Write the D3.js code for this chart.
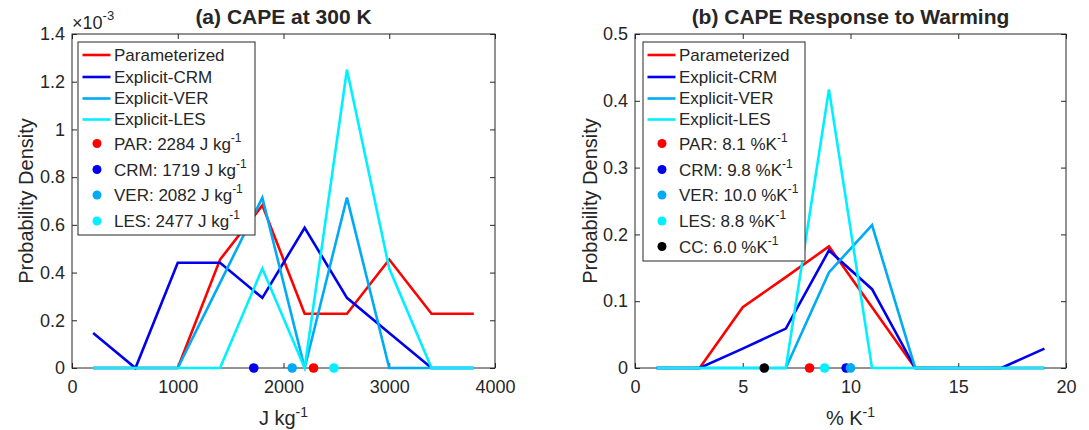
<!DOCTYPE html>
<html>
<head>
<meta charset="utf-8">
<script src="https://cdn.jsdelivr.net/npm/d3@7"></script>
<style>
  body { margin: 0; background: #fff; }
  svg text { font-family: "Liberation Sans", Arial, Helvetica, sans-serif; fill: #262626; }
  .axis path, .axis line { stroke: #262626; stroke-width: 1; }
  .axis text { font-size: 18px; fill: #262626; }
</style>
</head>
<body>
<svg id="fig" width="1089" height="430"></svg>
<script>
// ---- data (a): CAPE at 300 K, density in units of 1e-3 ----
var binsA = [200, 600, 1000, 1400, 1800, 2200, 2600, 3000, 3400, 3800];
var parA = [0, 0, 0, 0.4545, 0.6818, 0.2273, 0.2273, 0.4545, 0.2273, 0.2273];
var crmA = [0.147, 0, 0.441, 0.441, 0.294, 0.588, 0.294, 0.147, 0, 0];
var verA = [0, 0, 0, 0.357, 0.714, 0, 0.714, 0, 0, 0];
var lesA = [0, 0, 0, 0, 0.417, 0, 1.25, 0.417, 0, 0];
var meanA = [2284, 1719, 2082, 2477];            // PAR, CRM, VER, LES
var ticksAx = [0, 1000, 2000, 3000, 4000];
var ticksAy = [0, 0.2, 0.4, 0.6, 0.8, 1, 1.2, 1.4];

// ---- data (b): CAPE response to warming ----
var binsB = [1, 3, 5, 7, 9, 11, 13, 15, 17, 19];
var parB = [0, 0, 0.091, 0.136, 0.182, 0.091, 0, 0, 0, 0];
var crmB = [0, 0, 0.029, 0.059, 0.176, 0.118, 0, 0, 0, 0.029];
var verB = [0, 0, 0, 0, 0.143, 0.214, 0, 0, 0, 0];
var lesB = [0, 0, 0, 0, 0.417, 0, 0, 0, 0, 0];
var meanB = [8.1, 9.8, 10.0, 8.8, 6.0];           // PAR, CRM, VER, LES, CC
var ticksBx = [0, 5, 10, 15, 20];
var ticksBy = [0, 0.1, 0.2, 0.3, 0.4, 0.5];

var seriesNames = ["Parameterized", "Explicit-CRM", "Explicit-VER", "Explicit-LES"];
var dotNames = ["PAR", "CRM", "VER", "LES", "CC"];
var colors = ["#ff0000", "#0000ee", "#00aaf5", "#00f0ff", "#000000"];

var svg = d3.select("#fig");

function drawPanel(opt) {
  var x = d3.scaleLinear().domain(opt.xdom).range([opt.left, opt.right]);
  var y = d3.scaleLinear().domain(opt.ydom).range([opt.bottom, opt.top]);
  var g = svg.append("g");

  // axes, ticks pointing inward, box on
  g.append("g").attr("class", "axis")
    .attr("transform", "translate(0," + opt.bottom + ")")
    .call(d3.axisBottom(x).tickValues(opt.xticks).tickSizeInner(-5).tickSizeOuter(0).tickPadding(12).tickFormat(d3.format("d")));
  g.append("g").attr("class", "axis")
    .attr("transform", "translate(0," + opt.top + ")")
    .call(d3.axisTop(x).tickValues(opt.xticks).tickSizeInner(-5).tickSizeOuter(0).tickFormat(""));
  g.append("g").attr("class", "axis")
    .attr("transform", "translate(" + opt.left + ",0)")
    .call(d3.axisLeft(y).tickValues(opt.yticks).tickSizeInner(-5).tickSizeOuter(0).tickPadding(7).tickFormat(function(d) { return String(+d.toFixed(2)); }));
  g.append("g").attr("class", "axis")
    .attr("transform", "translate(" + opt.right + ",0)")
    .call(d3.axisRight(y).tickValues(opt.yticks).tickSizeInner(-5).tickSizeOuter(0).tickFormat(""));
  g.selectAll(".axis .domain").remove();
  g.append("rect")
    .attr("x", opt.left).attr("y", opt.top)
    .attr("width", opt.right - opt.left).attr("height", opt.bottom - opt.top)
    .attr("fill", "none").attr("stroke", "#262626").attr("stroke-width", 1);

  var line = d3.line()
    .x(function(d) { return x(d[0]); })
    .y(function(d) { return y(d[1]); });

  opt.series.forEach(function(s, i) {
    g.append("path")
      .datum(opt.bins.map(function(b, j) { return [b, s[j]]; }))
      .attr("d", line)
      .attr("fill", "none")
      .attr("stroke", colors[i])
      .attr("stroke-width", 2.6)
      .attr("stroke-linejoin", "miter");
  });

  opt.means.forEach(function(m, i) {
    g.append("circle")
      .attr("cx", x(m)).attr("cy", y(0)).attr("r", 4.8)
      .attr("fill", colors[i]);
  });

  // title
  g.append("text")
    .attr("x", (opt.left + opt.right) / 2).attr("y", 24)
    .attr("text-anchor", "middle")
    .style("font-size", "21px").style("font-weight", "bold")
    .text(opt.title);

  // x label
  var xl = g.append("text")
    .attr("x", (opt.left + opt.right) / 2).attr("y", 425)
    .attr("text-anchor", "middle")
    .style("font-size", "20px");
  xl.append("tspan").text(opt.xlabel);
  xl.append("tspan").attr("dy", -8).style("font-size", "14px").text("-1");

  // y label
  g.append("text")
    .attr("transform", "translate(" + opt.ylabelX + "," + ((opt.top + opt.bottom) / 2) + ") rotate(-90)")
    .attr("text-anchor", "middle")
    .attr("dy", "0.35em")
    .style("font-size", "20px")
    .text("Probability Density");

  // legend
  var L = opt.legend;
  var lg = g.append("g");
  lg.append("rect")
    .attr("x", L.x).attr("y", L.y).attr("width", L.w).attr("height", L.h)
    .attr("fill", "#fff").attr("stroke", "#262626").attr("stroke-width", 1);
  var rowsLine = [55, 77, 98.5, 119.5];
  seriesNames.forEach(function(name, i) {
    lg.append("line")
      .attr("x1", L.x + 4.5).attr("x2", L.x + 32.5)
      .attr("y1", rowsLine[i]).attr("y2", rowsLine[i])
      .attr("stroke", colors[i]).attr("stroke-width", 2.6);
    lg.append("text")
      .attr("x", L.x + L.tx).attr("y", rowsLine[i]).attr("dy", "0.35em")
      .style("font-size", "17px").text(name);
  });
  var rowsDot = [143.5, 169.5, 195, 221, 246.5];
  opt.means.forEach(function(m, i) {
    lg.append("circle")
      .attr("cx", L.x + 19).attr("cy", rowsDot[i]).attr("r", 4.5)
      .attr("fill", colors[i]);
    var t = lg.append("text")
      .attr("x", L.x + L.tx).attr("y", rowsDot[i] + 6)
      .style("font-size", "17px");
    t.append("tspan").text(dotNames[i] + ": " + opt.fmt(m) + opt.unit);
    t.append("tspan").attr("dy", -8).style("font-size", "12px").text("-1");
  });

  return {x: x, y: y};
}

drawPanel({
  left: 72, right: 495, top: 34, bottom: 368,
  xdom: [0, 4000], ydom: [0, 1.4],
  xticks: ticksAx, yticks: ticksAy,
  bins: binsA, series: [parA, crmA, verA, lesA], means: meanA,
  title: "(a) CAPE at 300 K", xlabel: "J kg", ylabelX: 26,
  legend: {x: 78, y: 42, w: 177, h: 193, tx: 36},
  fmt: function(v) { return String(v); }, unit: " J kg"
});

// exponent label for panel (a)
var ex = svg.append("text").attr("x", 72).attr("y", 29).style("font-size", "18px");
ex.append("tspan").text("\u00d710");
ex.append("tspan").attr("dy", -9).style("font-size", "13px").text("-3");

drawPanel({
  left: 635, right: 1066, top: 34, bottom: 368,
  xdom: [0, 20], ydom: [0, 0.5],
  xticks: ticksBx, yticks: ticksBy,
  bins: binsB, series: [parB, crmB, verB, lesB], means: meanB,
  title: "(b) CAPE Response to Warming", xlabel: "% K", ylabelX: 590,
  legend: {x: 643, y: 42, w: 162, h: 219, tx: 36},
  fmt: function(v) { return v.toFixed(1); }, unit: " %K"
});
</script>
</body>
</html>
